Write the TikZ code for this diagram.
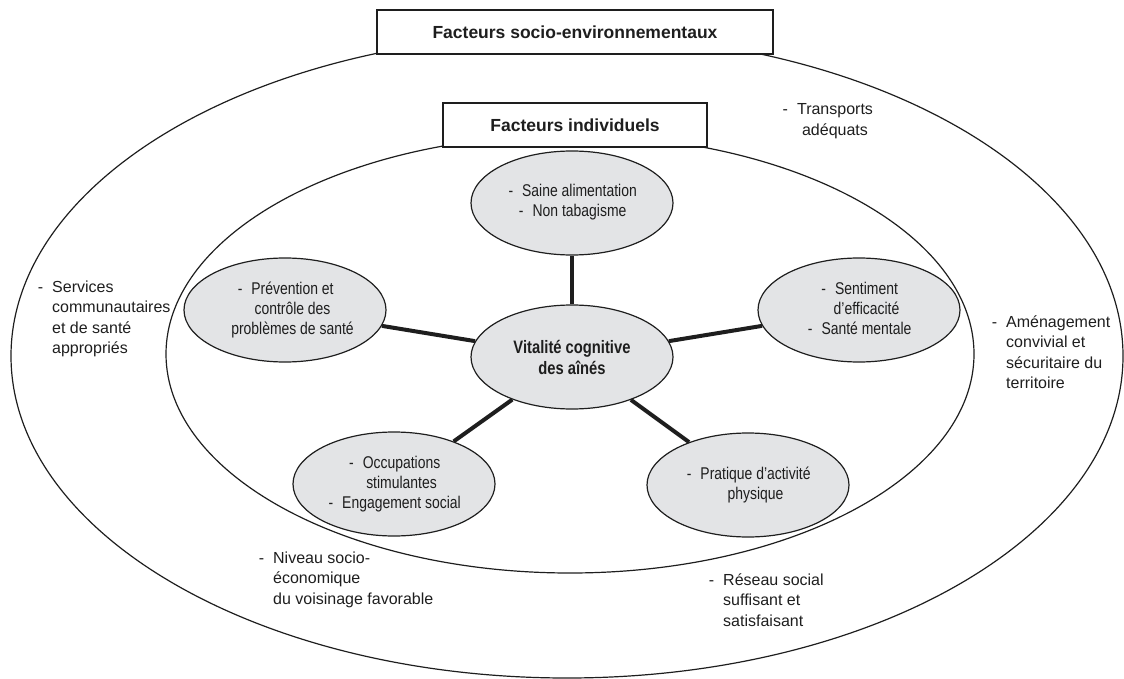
\documentclass[tikz,border=0pt]{standalone}
\usepackage{fontspec}
\setmainfont{Liberation Sans}
\newfontfamily\narrowfont{Liberation Sans}[FakeStretch=0.82]
\usetikzlibrary{shapes.geometric}

\definecolor{ink}{HTML}{1E1E1E}
\definecolor{blobgray}{HTML}{E3E4E6}

% hanging dash and text blocks
\newcommand{\itm}{\llap{-\hspace{9pt}}}
\newcommand{\blobtext}[1]{\begin{tabular}{@{\hspace{15pt}}c@{}}#1\end{tabular}}
\newcommand{\outtext}[1]{\begin{tabular}[t]{@{}l@{}}#1\end{tabular}}
\newcommand{\midtext}[1]{\begin{tabular}[t]{@{}c@{}}#1\end{tabular}}

\begin{document}
\begin{tikzpicture}[x=1pt, y=-1pt,
    blob/.style={ellipse, draw=ink, line width=1.2pt, fill=blobgray, text=ink, minimum width=202pt, minimum height=104pt, inner sep=0pt, font=\narrowfont\fontsize{17}{20}\selectfont},
    core/.style={blob, align=center, font=\narrowfont\bfseries\fontsize{18}{21}\selectfont},
    titlebox/.style={draw=ink, line width=1.2pt, fill=white, text=ink, minimum height=44pt, inner sep=0pt, font=\bfseries\fontsize{17.5}{21}\selectfont},
    factor/.style={anchor=base west, inner sep=0pt, text=ink, font=\fontsize{16}{20.5}\selectfont},
    link/.style={draw=ink, line width=4pt}]
    \useasboundingbox (0,0) rectangle (1124,679);

    % Rings
    \draw[ink, line width=1.2pt] (567,356) ellipse [x radius=556, y radius=322];
    \draw[ink, line width=1.2pt] (570,354) ellipse [x radius=404, y radius=219];

    % Titles
    \node (socio) [titlebox, minimum width=396pt] at (575,32) {Facteurs socio-environnementaux};
    \node (indiv) [titlebox, minimum width=264pt] at (575,125) {Facteurs individuels};

    % Outer factors
    \node (trans) [factor, anchor=base] at (835,115) {\midtext{\itm Transports\\ adéquats}};
    \node (serv) [factor] at (52,292) {\outtext{\itm Services\\ communautaires\\ et de santé\\ appropriés}};
    \node (amen) [factor] at (1006,327) {\outtext{\itm Aménagement\\ convivial et\\ sécuritaire du\\ territoire}};
    \node (niv) [factor] at (273,563) {\outtext{\itm Niveau socio-\\ économique\\ du voisinage favorable}};
    \node (res) [factor] at (723,585) {\outtext{\itm Réseau social\\ suffisant et\\ satisfaisant}};

    % Individual factors
    \node (core) [core] at (572,357) {Vitalité cognitive\\ des aînés};
    \node (sat) [blob] at (572,203) {\blobtext{\itm Saine alimentation\\ \itm Non tabagisme}};
    \node (eff) [blob] at (859,310) {\blobtext{\itm Sentiment\\ d’efficacité\\ \itm Santé mentale}};
    \node (act) [blob] at (748,485) {\blobtext{\itm Pratique d’activité\\ physique}};
    \node (occ) [blob] at (394,484) {\blobtext{\itm Occupations\\ stimulantes\\ \itm Engagement social}};
    \node (prev) [blob] at (285,310) {\blobtext{\itm Prévention et\\ contrôle des\\ problèmes de santé}};

    % Spokes
    \foreach \n in {sat, eff, act, occ, prev}
        \draw[link] (core) -- (\n);

\end{tikzpicture}
\end{document}
